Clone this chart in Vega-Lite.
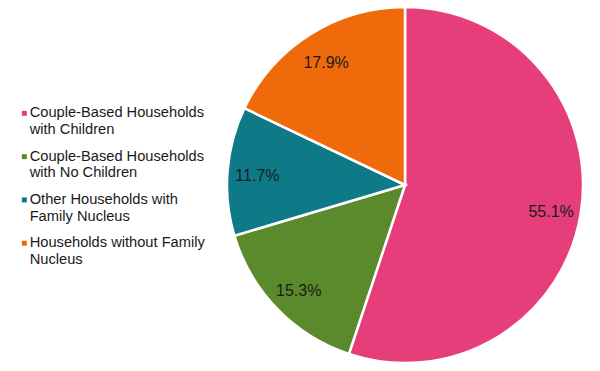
{
  "$schema": "https://vega.github.io/schema/vega-lite/v6.json",
  "width": 356,
  "height": 356,
  "padding": {"left": 227, "top": 7, "right": 17, "bottom": 8},
  "autosize": {"type": "none"},
  "background": "white",
  "config": {"view": {"stroke": null}, "font": "Liberation Sans"},
  "data": {
    "values": [
      {"category": "Couple-Based Households\nwith Children", "share": 0.551, "order": 1},
      {"category": "Couple-Based Households\nwith No Children", "share": 0.153, "order": 2},
      {"category": "Other Households with\nFamily Nucleus", "share": 0.117, "order": 3},
      {"category": "Households without Family\nNucleus", "share": 0.179, "order": 4}
    ]
  },
  "encoding": {
    "theta": {"field": "share", "type": "quantitative", "stack": true},
    "order": {"field": "order", "type": "quantitative"},
    "color": {
      "field": "category",
      "type": "nominal",
      "sort": {"field": "order"},
      "scale": {
        "domain": [
          "Couple-Based Households\nwith Children",
          "Couple-Based Households\nwith No Children",
          "Other Households with\nFamily Nucleus",
          "Households without Family\nNucleus"
        ],
        "range": ["#E63E7B", "#5A8A2C", "#0E7A88", "#EE6A0A"]
      },
      "legend": {
        "title": null,
        "orient": "none",
        "legendX": -210,
        "legendY": 91,
        "padding": 0,
        "symbolType": "M-1,2.2H1V4.2H-1Z",
        "symbolSize": 25,
        "symbolStrokeWidth": 0,
        "labelFontSize": 14.67,
        "labelColor": "#1a1a1a",
        "labelFont": "Liberation Sans",
        "labelLimit": 300,
        "labelLineHeight": 16.7,
        "labelOffset": -2,
        "labelBaseline": "top",
        "rowPadding": 4.3,
        "labelExpr": "split(datum.label, '\\n')"
      }
    }
  },
  "layer": [
    {
      "mark": {"type": "arc", "outerRadius": 178, "stroke": "white", "strokeWidth": 2.5}
    },
    {
      "mark": {"type": "text", "radius": 148, "dy": 3, "fontSize": 16, "font": "Liberation Sans", "color": "#1a1a1a"},
      "encoding": {
        "text": {"field": "share", "type": "quantitative", "format": ".1%"},
        "color": {"value": "#1a1a1a"}
      }
    }
  ]
}
